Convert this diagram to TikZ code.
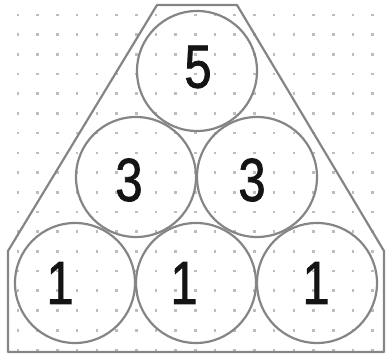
\documentclass[tikz,border=0pt]{standalone}
\usepackage{fontspec}
\newfontfamily\digitfont[FakeStretch=0.8,FakeBold=1.2]{Liberation Sans}
\definecolor{rim}{gray}{0.52}
\definecolor{dotgray}{gray}{0.74}
\tikzset{
  coin/.style={circle, draw=rim, line width=2.2pt, minimum size=120pt, inner sep=0pt},
  num/.style={font=\digitfont\fontsize{61}{61}\selectfont, text=black!92, inner sep=0pt},
  gridpt/.style={fill=dotgray}
}
\begin{document}
\begin{tikzpicture}[x=1pt,y=-1pt]
	\useasboundingbox (0,0) rectangle (388,355);
	%Dotted grid behind everything
	\foreach \i in {0,...,18}
		\foreach \j in {0,...,17}
			\fill[gridpt] ({18+19.7*\i-1.3},{15+19.7*\j-1.3}) rectangle +(2.6,2.6);
	%Frame round the stack
	\draw[rim, line width=2.2pt, line join=round] (8,352)--(8,251)--(157,5)--(237,5)--(384,251)--(384,352)--cycle;
	%Bottom row
	\node[coin, label={[num,xshift=-15pt]center:1}] (b1) at (75,283) {};
	\node[coin, label={[num,xshift=-12pt]center:1}] (b2) at (196,283) {};
	\node[coin, label={[num,xshift=-1pt]center:1}] (b3) at (317,283) {};
	%Middle row
	\node[coin, label={[num,xshift=-7pt,yshift=-3pt]center:3}] (m1) at (136,177) {};
	\node[coin, label={[num,xshift=-5pt,yshift=-3pt]center:3}] (m2) at (257,177) {};
	%Top
	\node[coin, label={[num,xshift=1pt,yshift=4pt]center:5}] (t1) at (197,71) {};
\end{tikzpicture}
\end{document}
